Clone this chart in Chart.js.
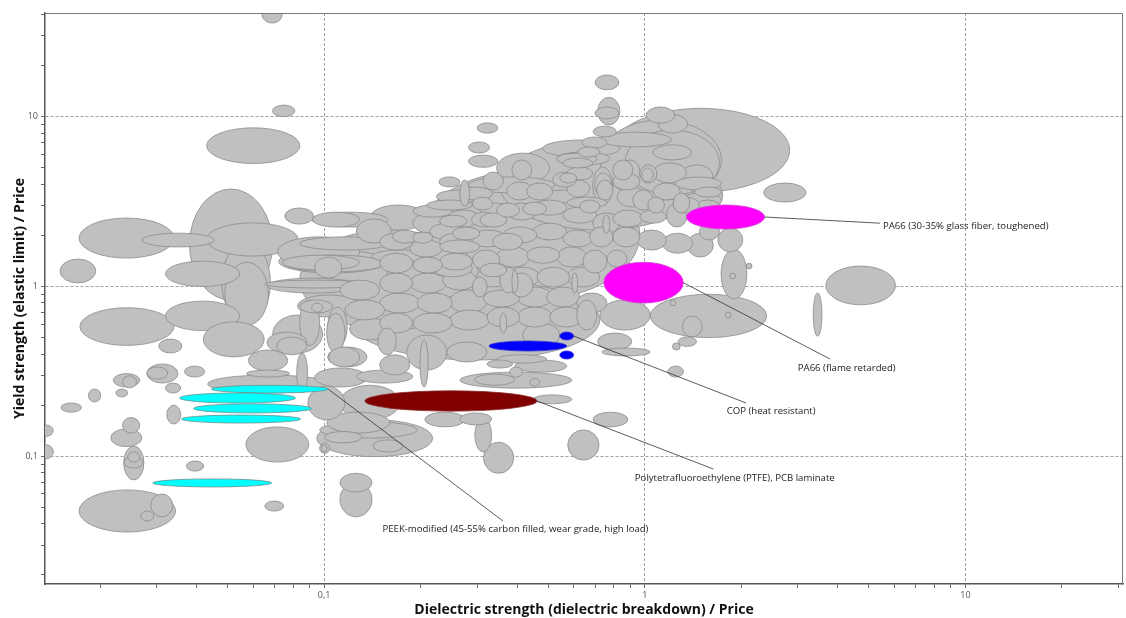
<!DOCTYPE html>
<html>
<head>
<meta charset="utf-8">
<script src="https://cdn.jsdelivr.net/npm/chart.js@4.4.0/dist/chart.umd.min.js"></script>
<style>
  html, body { margin: 0; padding: 0; background: #fff; }
</style>
</head>
<body>
<canvas id="chart" width="1126" height="618"></canvas>
<script>
// Material property chart: every material is a range [xLow, xHigh, yLow, yHigh]
// and gets drawn as an ellipse on log-log axes.

const xTickValues = [0.02, 0.03, 0.04, 0.05, 0.06, 0.07, 0.08, 0.09, 0.1, 0.2, 0.3, 0.4, 0.5, 0.6, 0.7, 0.8, 0.9,
  1, 2, 3, 4, 5, 6, 7, 8, 9, 10, 20, 30];
const yTickValues = [0.02, 0.03, 0.04, 0.05, 0.06, 0.07, 0.08, 0.09, 0.1, 0.2, 0.3, 0.4, 0.5, 0.6, 0.7, 0.8, 0.9,
  1, 2, 3, 4, 5, 6, 7, 8, 9, 10, 20, 30, 40];
const majorValues = [0.1, 1, 10];
const majorLabels = ['0,1', '1', '10'];

// grey materials
const otherMaterials = [
  [0.064, 0.074, 35.6, 45], [0.069, 0.081, 10.0, 11.7], [0.043, 0.084, 5.3, 8.6],
  [0.038, 0.069, 0.83, 3.75], [0.048, 0.068, 0.61, 1.83], [0.049, 0.067, 0.59, 1.39],
  [0.0172, 0.034, 1.47, 2.53], [0.027, 0.0455, 1.71, 2.06], [0.043, 0.083, 1.51, 2.37],
  [0.015, 0.0194, 1.05, 1.45], [0.032, 0.0545, 1.0, 1.41], [0.0173, 0.034, 0.45, 0.75],
  [0.032, 0.0545, 0.55, 0.82], [0.042, 0.065, 0.385, 0.62], [0.0305, 0.036, 0.406, 0.49],
  [0.058, 0.077, 0.318, 0.423], [0.0367, 0.0424, 0.293, 0.34], [0.028, 0.035, 0.27, 0.35],
  [0.028, 0.0325, 0.285, 0.336], [0.022, 0.0266, 0.256, 0.307], [0.0235, 0.026, 0.253, 0.298],
  [0.032, 0.0357, 0.236, 0.27], [0.0224, 0.0244, 0.224, 0.249], [0.0184, 0.0201, 0.209, 0.249],
  [0.0151, 0.0175, 0.182, 0.206], [0.0128, 0.0143, 0.131, 0.153], [0.0128, 0.0143, 0.0965, 0.117],
  [0.0235, 0.0266, 0.137, 0.169], [0.0216, 0.027, 0.114, 0.145], [0.0237, 0.0274, 0.0726, 0.115],
  [0.0244, 0.0266, 0.0925, 0.106], [0.0238, 0.0272, 0.0853, 0.0995], [0.0372, 0.0421, 0.0818, 0.0938],
  [0.0172, 0.0344, 0.0358, 0.0634], [0.0288, 0.0337, 0.044, 0.06], [0.0268, 0.0294, 0.0416, 0.0476],
  [0.0653, 0.0748, 0.0476, 0.0545], [0.057, 0.0895, 0.0925, 0.149], [0.0323, 0.0357, 0.155, 0.2],
  [0.098, 0.102, 0.106, 0.117], [0.089, 0.116, 0.164, 0.259], [0.112, 0.141, 0.0616, 0.0794],
  [0.112, 0.141, 0.044, 0.0705], [0.314, 0.39, 0.0794, 0.121], [0.575, 0.72, 0.095, 0.143],
  [0.295, 0.333, 0.106, 0.168], [0.69, 0.885, 0.149, 0.182],
  // right hand side
  [3.67, 6.05, 0.78, 1.32], [3.35, 3.57, 0.51, 0.915], [2.35, 3.18, 3.14, 4.07],
  [1.04, 2.4, 0.5, 0.9], [1.73, 2.08, 0.845, 1.66], [1.84, 1.92, 1.11, 1.2],
  [2.07, 2.16, 1.27, 1.37], [1.69, 2.02, 1.6, 2.21], [1.31, 1.51, 0.505, 0.67],
  [1.27, 1.45, 0.444, 0.505], [1.22, 1.29, 0.423, 0.465], [0.7345, 1.04, 0.39, 0.434],
  [1.18, 1.32, 0.293, 0.34], [1.78, 1.86, 0.652, 0.706], [1.2, 1.25, 0.77, 0.833],
  // top of the cloud
  [0.70, 0.83, 14.4, 17.6], [0.713, 0.836, 8.94, 13.0], [0.70, 0.83, 9.7, 11.4],
  [0.69, 0.815, 7.6, 8.8], [1.01, 1.24, 9.16, 11.4], [1.1, 1.36, 8.0, 10.3],
  [0.79, 2.83, 3.6, 11.2], [0.724, 1.21, 6.64, 8.1], [1.06, 1.4, 5.56, 6.83],
  [0.48, 0.836, 5.78, 7.29], [0.53, 0.71, 5.2, 6.1], [0.345, 0.505, 4.07, 6.1],
  [0.385, 0.444, 4.24, 5.56], [0.30, 0.348, 8.0, 9.2], [0.282, 0.328, 6.11, 7.1],
  [0.282, 0.348, 5.03, 5.94], [0.265, 0.284, 2.97, 4.24], [0.228, 0.265, 3.86, 4.42],
  [0.313, 0.362, 3.7, 4.72], [0.282, 0.524, 3.56, 4.42], [0.688, 0.795, 3.02, 5.05],
  [0.795, 0.917, 4.24, 5.56], [0.965, 1.09, 4.07, 5.2], [1.06, 1.35, 4.07, 5.35],
  [1.29, 1.63, 3.86, 5.2], [1.41, 1.75, 2.82, 4.24],
  // left part of the cloud
  [0.0754, 0.0927, 2.33, 2.90], [0.0921, 0.129, 2.24, 2.74], [0.0716, 0.129, 1.30, 1.96],
  [0.0743, 0.129, 1.25, 1.53], [0.0934, 0.1136, 1.12, 1.49], [0.0663, 0.129, 0.915, 1.12],
  [0.0826, 0.129, 0.661, 0.891], [0.0839, 0.1063, 0.698, 0.833], [0.0914, 0.0989, 0.706, 0.799],
  [0.0691, 0.0989, 0.406, 0.679], [0.0663, 0.0883, 0.406, 0.539], [0.0711, 0.0883, 0.396, 0.504],
  [0.1018, 0.1161, 0.406, 0.698], [0.1033, 0.129, 0.336, 0.440], [0.0821, 0.0888, 0.236, 0.406],
  [0.0573, 0.078, 0.293, 0.322], [0.0433, 0.104, 0.236, 0.301], [0.0914, 0.158, 2.24, 2.74],
  [0.126, 0.162, 1.80, 2.50], [0.0721, 0.157, 1.20, 1.64], [0.0754, 0.1545, 1.22, 1.53],
  [0.0653, 0.137, 0.98, 1.09], [0.0839, 0.160, 1.64, 1.96], [0.141, 0.209, 1.39, 1.64],
  [0.157, 0.202, 1.02, 1.37], [0.218, 0.284, 0.891, 1.39], [0.0839, 0.0968, 0.45, 0.833],
  [0.1025, 0.118, 0.440, 0.757], [0.1025, 0.136, 0.336, 0.440], [0.147, 0.168, 0.396, 0.570],
  [0.181, 0.241, 0.322, 0.518], [0.241, 0.322, 0.359, 0.471], [0.199, 0.211, 0.256, 0.484],
  [0.126, 0.189, 0.270, 0.322], [0.0934, 0.136, 0.256, 0.331], [0.0948, 0.218, 0.0995, 0.164],
  [0.102, 0.160, 0.137, 0.182], [0.100, 0.131, 0.120, 0.140], [0.142, 0.176, 0.106, 0.125],
  [0.0968, 0.104, 0.104, 0.120], [0.0968, 0.195, 0.128, 0.160], [0.265, 0.592, 0.252, 0.313],
  [0.2945, 0.393, 0.262, 0.305], [0.438, 0.470, 0.259, 0.287], [0.448, 0.592, 0.204, 0.230],
  [0.379, 0.416, 0.293, 0.336], [0.322, 0.387, 0.331, 0.369], [0.347, 0.494, 0.354, 0.396],
  [0.393, 0.571, 0.313, 0.369], [0.713, 0.911, 0.423, 0.532], [0.416, 0.543, 0.440, 0.610],
  [0.265, 0.333, 0.153, 0.180], [0.206, 0.275, 0.149, 0.182], [0.112, 0.172, 0.164, 0.262],
  // middle of the cloud
  [0.189, 0.251, 2.56, 3.02], [0.139, 0.209, 2.15, 3.02], [0.209, 0.290, 2.82, 3.23],
  [0.290, 0.335, 2.82, 3.36], [0.229, 0.279, 2.24, 2.63], [0.288, 0.347, 2.24, 2.74],
  [0.345, 0.407, 2.56, 3.10], [0.416, 0.494, 2.63, 3.14], [0.1635, 0.195, 1.80, 2.15],
  [0.189, 0.218, 1.80, 2.09], [0.213, 0.279, 1.88, 2.36], [0.251, 0.306, 1.88, 2.24],
  [0.306, 0.371, 2.24, 2.71], [0.229, 0.306, 1.57, 1.88], [0.335, 0.416, 1.64, 2.06],
  [0.218, 0.290, 1.14, 1.43], [0.306, 0.371, 1.14, 1.37], [0.218, 0.279, 0.868, 1.25],
  [0.290, 0.322, 0.868, 1.14], [0.353, 0.399, 0.915, 1.30], [0.379, 0.448, 0.868, 1.20],
  [0.224, 0.306, 3.10, 3.70], [0.265, 0.335, 3.23, 3.85], [0.371, 0.448, 3.23, 4.13],
  [0.428, 0.516, 3.23, 4.07], [0.516, 0.613, 3.85, 4.72], [0.571, 0.688, 4.24, 5.06],
  [0.571, 0.673, 3.36, 4.24], [0.627, 0.724, 2.71, 3.23], [0.708, 0.795, 3.23, 4.24],
  [0.795, 0.965, 3.70, 4.66], [0.918, 1.063, 2.82, 3.70], [1.063, 1.29, 3.23, 4.07],
  [1.226, 1.48, 2.71, 3.36], [1.41, 1.748, 2.46, 3.23], [1.48, 1.71, 1.88, 2.36],
  [1.168, 1.357, 2.24, 3.10], [0.965, 1.168, 2.36, 2.82], [0.795, 0.986, 2.24, 2.82],
  [0.688, 0.836, 2.06, 2.71], [0.555, 0.708, 2.36, 2.94], [0.448, 0.571, 2.63, 3.23],
  [0.371, 0.461, 2.46, 3.10], [0.306, 0.387, 2.56, 3.10], [0.241, 0.306, 2.24, 2.82],
  [0.189, 0.241, 2.06, 2.71], [0.149, 0.189, 1.64, 2.06], [0.185, 0.234, 1.49, 1.88],
  [0.229, 0.290, 1.64, 2.06], [0.284, 0.371, 1.71, 2.15], [0.361, 0.461, 1.80, 2.24],
  [0.448, 0.571, 1.88, 2.36], [0.555, 0.688, 1.71, 2.15], [0.673, 0.795, 1.71, 2.24],
  [0.795, 0.965, 1.71, 2.24], [0.945, 1.168, 1.64, 2.15], [1.134, 1.41, 1.57, 2.06],
  [1.357, 1.635, 1.49, 2.06], [0.149, 0.189, 1.20, 1.57], [0.189, 0.234, 1.20, 1.49],
  [0.229, 0.290, 1.25, 1.57], [0.290, 0.353, 1.25, 1.64], [0.345, 0.438, 1.30, 1.71],
  [0.428, 0.543, 1.37, 1.71], [0.531, 0.660, 1.30, 1.71], [0.641, 0.762, 1.20, 1.64],
  [0.762, 0.880, 1.30, 1.64], [0.149, 0.189, 0.915, 1.20], [0.185, 0.241, 0.915, 1.20],
  [0.234, 0.299, 0.954, 1.25], [0.299, 0.379, 0.993, 1.30], [0.371, 0.470, 0.993, 1.30],
  [0.461, 0.583, 0.993, 1.30], [0.571, 0.724, 0.993, 1.30], [0.149, 0.199, 0.698, 0.915],
  [0.195, 0.251, 0.698, 0.915], [0.246, 0.322, 0.698, 0.954], [0.313, 0.407, 0.757, 0.954],
  [0.399, 0.516, 0.757, 0.993], [0.494, 0.627, 0.757, 0.993], [0.613, 0.762, 0.698, 0.915],
  [0.149, 0.189, 0.532, 0.698], [0.189, 0.251, 0.532, 0.698], [0.246, 0.328, 0.554, 0.727],
  [0.322, 0.407, 0.577, 0.757], [0.399, 0.516, 0.577, 0.757], [0.505, 0.641, 0.577, 0.757],
  [0.613, 0.708, 0.554, 0.833], [0.592, 0.618, 0.915, 1.20], [0.385, 0.402, 0.915, 1.25],
  [0.740, 0.778, 2.06, 2.63], [0.353, 0.371, 0.532, 0.698], [0.480, 0.641, 3.10, 3.70],
  [0.571, 0.762, 2.90, 3.36], [0.819, 1.015, 2.94, 3.85], [1.022, 1.151, 2.71, 3.36],
  [1.226, 1.38, 2.71, 3.55], [1.244, 1.735, 3.70, 4.41], [1.431, 1.735, 3.36, 3.85],
  [1.29, 1.735, 2.90, 3.55], [0.698, 0.789, 3.36, 4.66], [0.543, 0.613, 4.07, 4.66],
  [0.618, 0.724, 5.79, 6.63], [0.636, 0.762, 6.54, 7.59], [0.531, 0.778, 5.19, 6.20],
  [0.555, 0.688, 4.99, 5.71], [0.836, 0.965, 4.07, 5.56], [0.979, 1.063, 4.13, 4.99],
  [0.724, 1.735, 3.23, 9.57], [0.867, 1.71, 3.46, 8.35], [0.112, 0.149, 0.833, 1.09],
  [0.116, 0.1545, 0.635, 0.833], [0.120, 0.160, 0.484, 0.652], [0.149, 0.185, 0.301, 0.396],
  [0.724, 1.04, 0.554, 0.833],
  // broad families behind the cloud
  [0.0839, 0.306, 0.554, 2.15], [0.199, 0.965, 0.833, 4.85], [0.120, 0.724, 0.369, 1.09],
  [0.353, 1.48, 2.15, 7.29]
];

// highlighted materials
const peekRanges = [
  [0.0445, 0.103, 0.236, 0.262], [0.0354, 0.0814, 0.206, 0.236], [0.0391, 0.0914, 0.180, 0.2036],
  [0.0359, 0.0845, 0.157, 0.175], [0.0292, 0.0686, 0.066, 0.0736]
];
const ptfeRanges = [[0.134, 0.461, 0.1845, 0.243]];
const copRanges = [[0.3265, 0.571, 0.417, 0.4775], [0.543, 0.60, 0.484, 0.539], [0.543, 0.60, 0.374, 0.417]];
const pa66Ranges = [[0.745, 1.318, 0.799, 1.39], [1.347, 2.364, 2.18, 3.02]];

const calloutTexts = [
  'PA66 (30-35% glass fiber, toughened)',
  'PA66 (flame retarded)',
  'COP (heat resistant)',
  'Polytetrafluoroethylene (PTFE), PCB laminate',
  'PEEK-modified (45-55% carbon filled, wear grade, high load)'
];

const FONT = "'Open Sans', 'Noto Sans', sans-serif";

function toPoints(ranges) {
  return ranges.map(r => ({ x: Math.sqrt(r[0] * r[1]), y: Math.sqrt(r[2] * r[3]), range: r }));
}

function logArea(r) {
  return Math.log(r[1] / r[0]) * Math.log(r[3] / r[2]);
}

const sortedOthers = otherMaterials.slice().sort((a, b) => logArea(b) - logArea(a));

// where the leader lines end and where the text sits, in data units
const callouts = [
  { target: pa66Ranges[1], end: [5.41, 2.36], text: [5.53, 2.27] },
  { target: pa66Ranges[0], end: [3.78, 0.374], text: [3.0, 0.331] },
  { target: copRanges[1], end: [2.07, 0.206], text: [1.80, 0.1845] },
  { target: ptfeRanges[0], end: [1.635, 0.0842], text: [0.931, 0.0745] },
  { target: peekRanges[0], end: [0.361, 0.0416], text: [0.152, 0.0373] }
];

const ellipsePlugin = {
  id: 'ellipses',
  beforeDatasetsDraw(chart) {
    const { ctx, chartArea, scales } = chart;
    ctx.save();
    ctx.beginPath();
    ctx.rect(chartArea.left, chartArea.top, chartArea.right - chartArea.left, chartArea.bottom - chartArea.top);
    ctx.clip();
    chart.data.datasets.forEach(ds => {
      ds.data.forEach(p => {
        const r = p.range;
        const x0 = scales.x.getPixelForValue(r[0]);
        const x1 = scales.x.getPixelForValue(r[1]);
        const y0 = scales.y.getPixelForValue(r[2]);
        const y1 = scales.y.getPixelForValue(r[3]);
        ctx.beginPath();
        ctx.ellipse((x0 + x1) / 2, (y0 + y1) / 2, Math.abs(x1 - x0) / 2, Math.abs(y1 - y0) / 2, 0, 0, Math.PI * 2);
        ctx.fillStyle = ds.fillColor;
        ctx.fill();
        ctx.lineWidth = 0.8;
        ctx.strokeStyle = ds.edgeColor;
        ctx.stroke();
      });
    });

    // leader lines + labels
    ctx.strokeStyle = '#333';
    ctx.lineWidth = 0.8;
    ctx.fillStyle = '#222';
    ctx.font = '9.6px ' + FONT;
    ctx.textBaseline = 'middle';
    ctx.textAlign = 'left';
    callouts.forEach((c, i) => {
      const sx = scales.x.getPixelForValue(c.target[1]);
      const sy = scales.y.getPixelForValue(Math.sqrt(c.target[2] * c.target[3]));
      ctx.beginPath();
      ctx.moveTo(sx, sy);
      ctx.lineTo(scales.x.getPixelForValue(c.end[0]), scales.y.getPixelForValue(c.end[1]));
      ctx.stroke();
      ctx.fillText(calloutTexts[i], scales.x.getPixelForValue(c.text[0]), scales.y.getPixelForValue(c.text[1]));
    });
    ctx.restore();
  },
  afterDraw(chart) {
    const { ctx, chartArea } = chart;
    ctx.save();
    ctx.strokeStyle = '#7a7a7a';
    ctx.lineWidth = 1;
    ctx.beginPath();
    ctx.moveTo(chartArea.left, chartArea.top + 0.5);
    ctx.lineTo(chartArea.right - 0.5, chartArea.top + 0.5);
    ctx.lineTo(chartArea.right - 0.5, chartArea.bottom);
    ctx.stroke();
    ctx.restore();
  }
};

function tickLabel(value) {
  const i = majorValues.indexOf(value);
  return i >= 0 ? majorLabels[i] : '';
}

function gridColor(ctx) {
  return ctx.tick && majorValues.includes(ctx.tick.value) ? '#a0a0a0' : 'rgba(0,0,0,0)';
}

new Chart(document.getElementById('chart'), {
  type: 'scatter',
  data: {
    datasets: [
      { label: 'Other', data: toPoints(sortedOthers), fillColor: '#c0c0c0', edgeColor: '#8c8c8c', pointRadius: 0 },
      { label: 'PEEK', data: toPoints(peekRanges), fillColor: '#00ffff', edgeColor: '#6f8f8f', pointRadius: 0 },
      { label: 'PTFE', data: toPoints(ptfeRanges), fillColor: '#800000', edgeColor: '#8a2a2a', pointRadius: 0 },
      { label: 'COP', data: toPoints(copRanges), fillColor: '#0000ff', edgeColor: '#2a2ad0', pointRadius: 0 },
      { label: 'PA66', data: toPoints(pa66Ranges), fillColor: '#ff00ff', edgeColor: '#d040d0', pointRadius: 0 }
    ]
  },
  options: {
    responsive: false,
    animation: false,
    devicePixelRatio: 1,
    layout: { padding: { top: 13, right: 3, left: 0, bottom: 0 } },
    plugins: {
      legend: { display: false },
      tooltip: { enabled: false }
    },
    scales: {
      x: {
        type: 'logarithmic',
        min: 0.01347,
        max: 31.0,
        afterBuildTicks: s => { s.ticks = xTickValues.map(v => ({ value: v })); },
        afterFit: s => { s.height = 34; },
        ticks: {
          autoSkip: false,
          maxRotation: 0,
          padding: 2,
          color: '#555',
          font: { family: FONT, size: 9 },
          callback: v => tickLabel(v)
        },
        grid: { color: gridColor, lineWidth: 1, tickColor: '#666', tickLength: 4, tickBorderDash: [] },
        border: { color: '#555', width: 1.5, dash: [3, 2] },
        title: {
          display: true,
          text: 'Dielectric strength (dielectric breakdown) / Price',
          color: '#111',
          font: { family: FONT, size: 14, weight: 'bold' },
          padding: { top: 0, bottom: 0 }
        }
      },
      y: {
        type: 'logarithmic',
        min: 0.0177,
        max: 40.8,
        afterBuildTicks: s => { s.ticks = yTickValues.map(v => ({ value: v })); },
        afterFit: s => { s.width = 45; },
        ticks: {
          autoSkip: false,
          padding: 3,
          color: '#555',
          font: { family: FONT, size: 9 },
          callback: v => tickLabel(v)
        },
        grid: { color: gridColor, lineWidth: 1, tickColor: '#666', tickLength: 4, tickBorderDash: [] },
        border: { color: '#555', width: 1.5, dash: [3, 2] },
        title: {
          display: true,
          text: 'Yield strength (elastic limit) / Price',
          color: '#111',
          font: { family: FONT, size: 14, weight: 'bold' },
          padding: { top: 12, bottom: 0 }
        }
      }
    }
  },
  plugins: [ellipsePlugin]
});
</script>
</body>
</html>
